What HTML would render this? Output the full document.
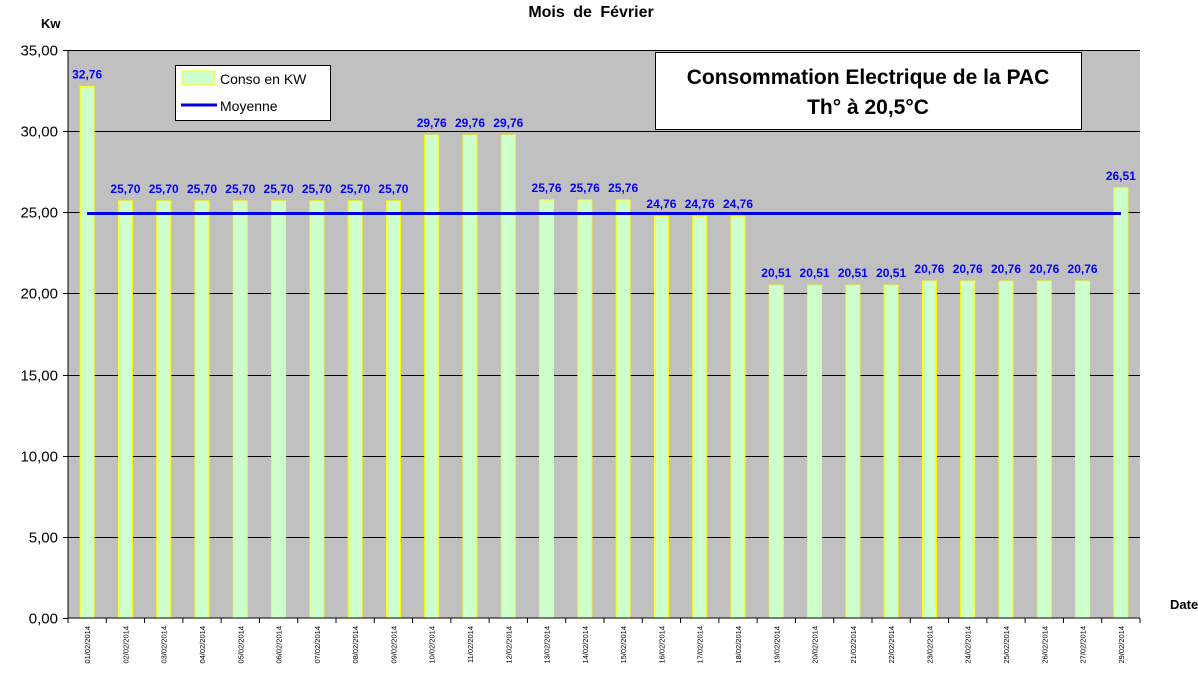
<!DOCTYPE html>
<html><head><meta charset="utf-8"><style>body{margin:0;background:#fff}</style></head><body>
<svg width="1198" height="678" xmlns="http://www.w3.org/2000/svg" font-family="Liberation Sans, Arial, sans-serif">
<rect width="1198" height="678" fill="#fff"/>
<text x="591" y="17" font-size="16" font-weight="bold" text-anchor="middle" word-spacing="4">Mois de Février</text>
<text x="41" y="28" font-size="13" font-weight="bold">Kw</text>
<text x="1170" y="609" font-size="13" font-weight="bold">Date</text>
<rect x="68" y="50" width="1072" height="568" fill="#c0c0c0"/>
<g id="grid" stroke="#000" stroke-width="1"></g>
<g id="bars"></g>
<line x1="68" y1="50" x2="68" y2="618" stroke="#000"/>
<line x1="68" y1="618" x2="1140" y2="618" stroke="#000"/>
<g id="ticks"></g>
<line x1="87" y1="213.5" x2="1121" y2="213.5" stroke="#0000e0" stroke-width="3"/>
<g id="labels" fill="#0000ff" font-size="12" font-weight="bold" text-anchor="middle"></g>
<rect x="175.5" y="65.5" width="155" height="55" fill="#fff" stroke="#000"/>
<rect x="182" y="71" width="33" height="14" fill="#ccffcc" stroke="#ffff00"/>
<text x="220" y="84" font-size="14">Conso en KW</text>
<line x1="181" y1="105" x2="217" y2="105" stroke="#0000e0" stroke-width="3"/>
<text x="220" y="111" font-size="14">Moyenne</text>
<rect x="655.5" y="52.5" width="426" height="77" fill="#fff" stroke="#000"/>
<text x="868" y="84" font-size="21" font-weight="bold" text-anchor="middle">Consommation Electrique de la PAC</text>
<text x="868" y="114" font-size="21" font-weight="bold" text-anchor="middle">Th° à  20,5°C</text>
</svg>
<script>
const ns="http://www.w3.org/2000/svg";
function el(p,t,a,txt){const e=document.createElementNS(ns,t);for(const k in a)e.setAttribute(k,a[k]);if(txt!==undefined)e.textContent=txt;document.getElementById(p).appendChild(e);}
const y=v=>618-v*16.229;
for(let i=0;i<=7;i++){const yy=Math.round(y(i*5))+0.5;if(i>0)el('grid','line',{x1:68,y1:yy,x2:1140,y2:yy});
el('ticks','line',{x1:63,y1:yy,x2:68,y2:yy,stroke:'#000'});
el('ticks','text',{x:58,y:yy+5,'font-size':15,'text-anchor':'end'},(i*5).toFixed(2).replace('.',','));}
const vals=[32.76].concat(Array(8).fill(25.70),Array(3).fill(29.76),Array(3).fill(25.76),Array(3).fill(24.76),Array(4).fill(20.51),Array(5).fill(20.76),[26.51]);
const w=1072/28;
vals.forEach((v,i)=>{const cx=68+w*(i+0.5);
el('bars','rect',{x:cx-7,y:y(v),width:14,height:618-y(v),fill:'#ccffcc',stroke:'#ffff00','stroke-width':1});
el('labels','text',{x:cx,y:y(v)-8},v.toFixed(2).replace('.',','));
const tx=68+w*(i+1);el('ticks','line',{x1:tx,y1:618,x2:tx,y2:623,stroke:'#000'});
const d=(i==27?'29':String(i+1).padStart(2,'0'))+'/02/2014';
el('ticks','text',{x:0,y:0,'font-size':7.5,'text-anchor':'end',transform:`translate(${cx+3},626) rotate(-90)`},d);});
el('ticks','line',{x1:68,y1:618,x2:68,y2:623,stroke:'#000'});
</script>
</body></html>
